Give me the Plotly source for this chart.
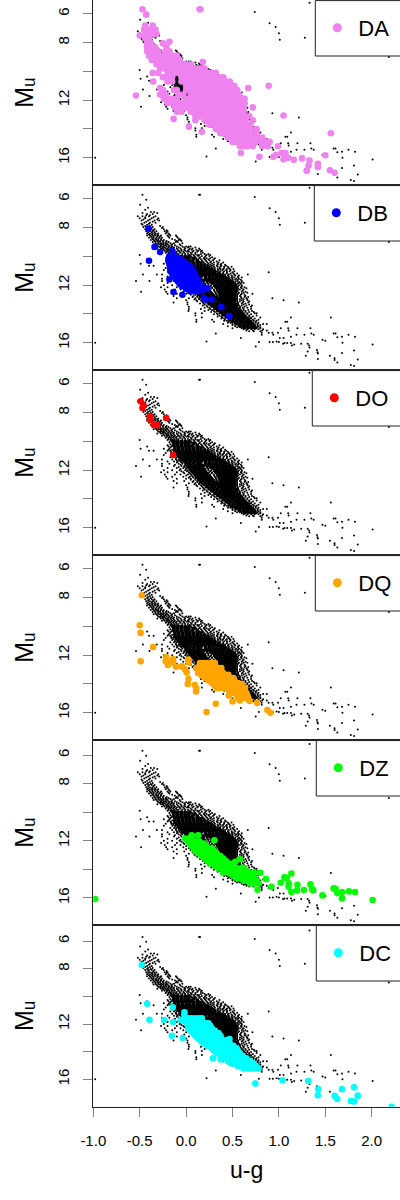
import plotly.graph_objects as go

# ---------- u-g tick labels and M_u tick labels ----------
x_ticks = [-1.0, -0.5, 0.0, 0.5, 1.0, 1.5, 2.0]
x_tick_text = ["-1.0", "-0.5", "0.0", "0.5", "1.0", "1.5", "2.0"]
y_ticks = [6, 8, 12, 16]
y_tick_text = ["6", "8", "12", "16"]
y_unlabelled_ticks = [10, 14]

# ---------- background sample: (M_u, [u-g values read along that M_u]) ----------
bg_core_rows = [
    (10.0, [-0.13, -0.09, -0.05, -0.01, 0.03]),
    (10.15, [-0.13, -0.09, -0.05, -0.01, 0.03, 0.08]),
    (10.3, [-0.13, -0.09, -0.05, -0.01, 0.03, 0.07, 0.12]),
    (10.45, [-0.12, -0.08, -0.04, 0.0, 0.04, 0.08, 0.12, 0.16]),
    (10.6, [-0.12, -0.08, -0.04, 0.0, 0.04, 0.08, 0.12, 0.16, 0.2]),
    (10.75, [-0.11, -0.07, -0.03, 0.01, 0.05, 0.09, 0.13, 0.17, 0.21, 0.24]),
    (10.9, [-0.09, -0.05, -0.01, 0.03, 0.07, 0.11, 0.15, 0.19, 0.23, 0.27]),
    (11.05, [-0.07, -0.03, 0.01, 0.05, 0.09, 0.13, 0.17, 0.21, 0.25, 0.28, 0.31]),
    (11.2, [-0.05, -0.01, 0.03, 0.07, 0.11, 0.15, 0.19, 0.23, 0.27, 0.31, 0.35]),
    (11.35, [-0.03, 0.01, 0.05, 0.09, 0.13, 0.17, 0.21, 0.25, 0.29, 0.33, 0.36, 0.39]),
    (11.5, [0.0, 0.04, 0.08, 0.12, 0.15, 0.21, 0.25, 0.29, 0.33, 0.37, 0.4, 0.43]),
    (11.65, [0.01, 0.05, 0.09, 0.13, 0.17, 0.23, 0.27, 0.31, 0.35, 0.39, 0.43, 0.47]),
    (11.8, [0.03, 0.07, 0.11, 0.14, 0.17, 0.28, 0.32, 0.36, 0.4, 0.44, 0.47, 0.5]),
    (11.95, [0.05, 0.09, 0.13, 0.16, 0.19, 0.31, 0.35, 0.39, 0.43, 0.46, 0.49, 0.52]),
    (12.1, [0.07, 0.1, 0.14, 0.17, 0.2, 0.33, 0.37, 0.41, 0.44, 0.47, 0.5, 0.53]),
    (12.25, [0.09, 0.12, 0.16, 0.19, 0.22, 0.35, 0.38, 0.41, 0.44, 0.47, 0.5, 0.53]),
    (12.4, [0.11, 0.14, 0.18, 0.21, 0.24, 0.36, 0.39, 0.42, 0.45, 0.48, 0.51, 0.53]),
    (12.55, [0.13, 0.16, 0.2, 0.23, 0.26, 0.37, 0.4, 0.43, 0.46, 0.49, 0.51, 0.53]),
    (12.7, [0.15, 0.18, 0.22, 0.25, 0.28, 0.37, 0.4, 0.43, 0.46, 0.49, 0.52]),
    (12.85, [0.17, 0.21, 0.25, 0.29, 0.33, 0.37, 0.4, 0.43, 0.46, 0.49, 0.52]),
    (13.0, [0.2, 0.24, 0.28, 0.32, 0.36, 0.39, 0.42, 0.45, 0.49, 0.52]),
    (13.15, [0.23, 0.27, 0.31, 0.35, 0.38, 0.41, 0.44, 0.47, 0.5, 0.52]),
    (13.3, [0.26, 0.3, 0.34, 0.38, 0.41, 0.44, 0.47, 0.5, 0.53]),
    (13.45, [0.29, 0.33, 0.37, 0.4, 0.43, 0.46, 0.49, 0.52, 0.54]),
    (13.6, [0.32, 0.36, 0.4, 0.43, 0.46, 0.49, 0.52, 0.55]),
    (13.75, [0.35, 0.39, 0.43, 0.46, 0.49, 0.52, 0.55, 0.57]),
    (13.9, [0.38, 0.42, 0.46, 0.49, 0.52, 0.55, 0.59]),
    (14.05, [0.41, 0.45, 0.49, 0.52, 0.55, 0.58, 0.61]),
    (14.2, [0.44, 0.48, 0.52, 0.55, 0.58, 0.61, 0.63]),
    (14.35, [0.47, 0.51, 0.55, 0.58, 0.61, 0.64, 0.66]),
    (14.5, [0.5, 0.54, 0.58, 0.61, 0.65, 0.68]),
    (14.65, [0.54, 0.58, 0.62, 0.65, 0.68, 0.71]),
    (14.8, [0.58, 0.62, 0.66, 0.7, 0.73]),
    (14.95, [0.63, 0.67, 0.71, 0.74]),
]
bg_sparse_rows = [
    (5.23, [1.33]), (5.7, [-0.47, 0.14, 0.15]), (5.86, [0.74]), (6.05, [-0.43]),
    (6.4, [-0.495]), (6.65, [0.9]), (6.76, [-0.44]), (6.9, [-0.38, -0.345, 0.965]),
    (7.05, [-0.42, -0.36]), (7.2, [-0.52, -0.47, -0.4, -0.33]),
    (7.35, [-0.5, -0.44, -0.37, -0.3, 1.0]), (7.5, [-0.48, -0.41, -0.34, -0.29]),
    (7.65, [-0.45, -0.39, -0.33, 1.28]), (7.8, [-0.47, -0.42, -0.37, 1.01]),
    (7.95, [-0.46, -0.41, -0.36, -0.25]), (8.1, [-0.44, -0.4, -0.37, -0.34, -0.24]),
    (8.25, [-0.43, -0.39, -0.36, -0.32, -0.23, -0.2]),
    (8.4, [-0.42, -0.39, -0.36, -0.33, -0.3, -0.22, -0.19]),
    (8.55, [-0.42, -0.39, -0.36, -0.33, -0.3, -0.27, -0.2, -0.17, -0.11]),
    (8.7, [-0.4, -0.37, -0.35, -0.32, -0.29, -0.26, -0.18, -0.09]),
    (8.85, [-0.38, -0.35, -0.32, -0.3, -0.27, -0.24, -0.12, -0.08, -0.06]),
    (9.0, [-0.36, -0.33, -0.3, -0.28, -0.25, -0.22, -0.19, -0.11, -0.09, 2.185]),
    (9.15, [-0.35, -0.32, -0.29, -0.27, -0.25, -0.22, -0.2, -0.15, -0.07]),
    (9.3, [-0.3, -0.28, -0.26, -0.24, -0.21, -0.18, -0.15, -0.1, -0.04, 0.0, 0.03, 0.05]),
    (9.45, [-0.31, -0.27, -0.25, -0.22, -0.2, -0.17, -0.14, -0.1, -0.06, -0.01, 0.04, 0.07, 0.14]),
    (9.6, [-0.26, -0.23, -0.2, -0.18, -0.15, -0.12, -0.08, -0.05, -0.01, 0.02, 0.08, 0.13, 0.17]),
    (9.75, [-0.22, -0.19, -0.17, -0.14, -0.11, -0.06, -0.02, 0.05, 0.1, 0.18]),
    (9.9, [-0.5, -0.2, -0.17, -0.15, -0.12, 0.04, 0.08, 0.12, 0.14, 0.22, 0.26]),
    (10.05, [-0.18, -0.15, 0.06, 0.1, 0.15, 0.2, 0.28]),
    (10.2, [-0.17, 0.11, 0.16, 0.2, 0.24, 0.3]),
    (10.35, [-0.42, -0.19, -0.16, 0.14, 0.18, 0.22, 0.27, 0.33]),
    (10.5, [-0.49, -0.24, -0.18, 0.2, 0.24, 0.28, 0.34, 0.38]),
    (10.65, [-0.4, -0.35, -0.2, -0.17, 0.24, 0.28, 0.33, 0.38, 0.43]),
    (10.8, [-0.22, -0.16, -0.14, 0.28, 0.31, 0.36, 0.41, 0.46]),
    (10.95, [-0.24, -0.15, -0.12, 0.31, 0.35, 0.39, 0.43, 0.48]),
    (11.1, [-0.17, -0.13, -0.1, 0.36, 0.4, 0.44, 0.5, 0.89]),
    (11.25, [-0.465, -0.315, -0.26, -0.15, -0.11, -0.08, 0.38, 0.42, 0.46, 0.52, 0.665]),
    (11.4, [-0.2, -0.13, -0.09, -0.06, 0.42, 0.46, 0.5, 0.56]),
    (11.55, [-0.26, -0.18, -0.08, -0.04, 0.46, 0.5, 0.54, 0.57]),
    (11.7, [-0.54, -0.395, -0.26, -0.13, -0.05, -0.02, 0.5, 0.55, 0.6]),
    (11.85, [-0.2, -0.1, -0.03, 0.0, 0.52, 0.56, 0.58, 0.62]),
    (12.0, [-0.24, -0.15, -0.07, -0.01, 0.02, 0.54, 0.57, 0.6]),
    (12.15, [-0.27, -0.2, -0.1, -0.03, 0.03, 0.55, 0.59, 0.63]),
    (12.3, [-0.23, -0.12, -0.06, 0.02, 0.05, 0.55, 0.58, 0.62]),
    (12.45, [-0.485, -0.215, -0.15, -0.03, 0.04, 0.07, 0.55, 0.6, 0.64]),
    (12.6, [-0.2, -0.1, 0.0, 0.05, 0.1, 0.56, 0.6, 0.715]),
    (12.75, [-0.135, -0.02, 0.08, 0.12, 0.55, 0.58, 0.64]),
    (12.9, [-0.1, 0.03, 0.1, 0.14, 0.55, 0.6, 0.65, 0.93]),
    (13.05, [0.0, 0.11, 0.16, 0.55, 0.6, 0.66, 1.05]),
    (13.2, [-0.135, 0.015, 0.18, 0.21, 0.56, 0.61, 0.67, 1.215]),
    (13.35, [0.015, 0.2, 0.24, 0.56, 0.62, 0.68]),
    (13.5, [0.03, 0.23, 0.27, 0.58, 0.63, 0.7]),
    (13.65, [0.03, 0.16, 0.26, 0.3, 0.58, 0.62, 0.7]),
    (13.8, [0.025, 0.2, 0.3, 0.33, 0.6, 0.64, 0.71]),
    (13.95, [0.1, 0.17, 0.33, 0.36, 0.62, 0.66, 0.74, 0.76]),
    (14.1, [0.1, 0.36, 0.39, 0.64, 0.68, 0.76]),
    (14.25, [0.17, 0.39, 0.43, 0.66, 0.7, 0.8, 1.13, 1.56]),
    (14.4, [0.11, 0.28, 0.42, 0.46, 0.68, 0.72, 0.78]),
    (14.55, [0.11, 0.3, 0.46, 0.5, 0.7, 0.75, 1.07, 1.09]),
    (14.7, [0.4, 0.5, 0.54, 0.73, 0.77, 0.83, 0.87]),
    (14.85, [0.45, 0.53, 0.57, 0.75, 0.78]),
    (15.0, [0.5, 0.6, 0.64, 0.76, 0.8, 1.02, 1.1, 1.2, 1.34]),
    (15.15, [0.65, 0.72, 0.82, 0.87, 1.105]),
    (15.3, [0.89, 0.93, 0.99, 0.815]),
    (15.36, [0.32, 1.35, 1.59, 1.61]),
    (15.45, [0.94, 1.19, 1.275, 1.375, 0.815, 1.75]),
    (15.58, [1.13, 1.68, 1.82]), (15.63, [1.63]), (15.68, [0.59, 1.01, 1.05]),
    (15.8, [1.47]), (15.87, [1.5]), (15.92, [0.22, 0.975]), (15.96, [0.785, 0.9, 0.935, 1.0]),
    (16.0, [-0.98, 1.685]), (16.03, [1.06, 1.09, 1.13]), (16.08, [1.24, 1.31, 1.045]),
    (16.12, [2.01, 1.165]), (16.19, [1.14, 1.325]), (16.27, [0.75]), (16.33, [1.33]),
    (16.5, [1.41]), (16.54, [1.81]), (16.61, [1.31]), (16.66, [1.415]), (16.71, [1.68]),
    (16.75, [1.42]), (16.9, [1.29, 1.55]), (17.08, [1.6]), (17.13, [1.42]), (17.17, [1.85]),
    (17.2, [1.6]), (17.38, [1.63]), (17.55, [1.775]), (17.62, [1.81]),
]
bg_halo_rows = [
    (6.62, [-0.41]), (6.97, [-0.47, -0.31]), (7.13, [-0.39, -0.43]), (7.27, [-0.35, -0.44]),
    (7.43, [-0.46, -0.39, -0.31]), (7.58, [-0.43, -0.36]), (7.72, [-0.48, -0.4]),
    (7.88, [-0.44, -0.39, -0.28]), (8.03, [-0.42, -0.38, -0.26]), (8.17, [-0.41, -0.35, -0.21]),
    (8.32, [-0.41, -0.37, -0.34, -0.21]), (8.47, [-0.4, -0.37, -0.34, -0.31, -0.18]),
    (8.62, [-0.38, -0.35, -0.31, -0.28, -0.19, -0.1]),
    (8.78, [-0.36, -0.33, -0.3, -0.27, -0.15, -0.07]),
    (8.93, [-0.34, -0.31, -0.28, -0.25, -0.21, -0.1, -0.05]),
    (9.08, [-0.33, -0.3, -0.27, -0.24, -0.21, -0.17, -0.13, -0.04]),
    (9.23, [-0.31, -0.27, -0.24, -0.22, -0.19, -0.16, -0.12, -0.06]),
    (9.38, [-0.28, -0.25, -0.23, -0.19, -0.16, -0.13, -0.08, -0.02, 0.02, 0.1]),
    (9.53, [-0.24, -0.21, -0.19, -0.16, -0.13, -0.09, -0.05, -0.02, 0.03, 0.06, 0.11, 0.15]),
    (9.68, [-0.21, -0.18, -0.16, -0.13, -0.1, -0.07, -0.03, 0.01, 0.03, 0.07, 0.12, 0.16]),
    (9.83, [-0.19, -0.16, -0.13, -0.1, -0.08, -0.04, -0.01, 0.02, 0.06, 0.1, 0.16, 0.2, 0.24]),
    (9.97, [-0.16, -0.14, -0.06, 0.05, 0.09, 0.13, 0.17, 0.21, 0.25]),
    (10.12, [0.07, 0.11, 0.14, 0.19, 0.22, 0.26, 0.31]),
    (10.27, [-0.2, -0.15, 0.13, 0.17, 0.21, 0.25, 0.29, 0.36]),
    (10.42, [-0.17, 0.19, 0.23, 0.26, 0.3, 0.35, 0.4]),
    (10.58, [-0.19, -0.15, 0.23, 0.26, 0.3, 0.34, 0.37, 0.42]),
    (10.72, [-0.16, -0.13, 0.27, 0.3, 0.34, 0.37, 0.41, 0.45, 0.49]),
    (10.88, [-0.14, -0.11, 0.3, 0.34, 0.37, 0.4, 0.44, 0.47, 0.51]),
    (11.03, [-0.12, -0.09, 0.34, 0.37, 0.41, 0.44, 0.47, 0.52]),
    (11.18, [-0.11, -0.07, 0.37, 0.4, 0.44, 0.48, 0.51, 0.55]),
    (11.33, [-0.1, -0.07, -0.04, 0.42, 0.45, 0.49, 0.53, 0.57]),
    (11.47, [-0.1, -0.05, -0.02, 0.46, 0.49, 0.52, 0.56, 0.6]),
    (11.62, [-0.12, -0.06, -0.01, 0.19, 0.21, 0.5, 0.53, 0.56, 0.59]),
    (11.77, [-0.08, -0.02, 0.02, 0.19, 0.22, 0.25, 0.53, 0.57, 0.6]),
    (11.92, [-0.06, 0.0, 0.04, 0.21, 0.24, 0.28, 0.55, 0.59]),
    (12.07, [-0.05, 0.01, 0.05, 0.22, 0.26, 0.3, 0.56, 0.6]),
    (12.22, [-0.02, 0.04, 0.07, 0.24, 0.28, 0.32, 0.56, 0.6, 0.65]),
    (12.37, [0.0, 0.06, 0.09, 0.26, 0.3, 0.33, 0.56, 0.61]),
    (12.52, [0.03, 0.08, 0.11, 0.28, 0.32, 0.35, 0.57, 0.62, 0.66]),
    (12.67, [0.05, 0.1, 0.13, 0.3, 0.33, 0.55, 0.59, 0.63]),
    (12.82, [0.07, 0.12, 0.15, 0.55, 0.59, 0.63, 0.67]),
    (12.97, [0.09, 0.14, 0.18, 0.55, 0.58, 0.62, 0.66]),
    (13.12, [0.12, 0.17, 0.21, 0.55, 0.58, 0.62, 0.68]),
    (13.27, [0.15, 0.19, 0.24, 0.56, 0.6, 0.64]),
    (13.42, [0.18, 0.22, 0.27, 0.57, 0.6, 0.65, 0.71]),
    (13.57, [0.2, 0.25, 0.3, 0.58, 0.61, 0.66]),
    (13.72, [0.24, 0.28, 0.33, 0.59, 0.62, 0.67]),
    (13.87, [0.27, 0.31, 0.36, 0.61, 0.64, 0.68, 0.73]),
    (14.02, [0.3, 0.34, 0.39, 0.63, 0.66, 0.7]),
    (14.17, [0.34, 0.38, 0.42, 0.65, 0.68, 0.72]),
    (14.32, [0.38, 0.41, 0.45, 0.68, 0.7, 0.74]),
    (14.47, [0.41, 0.44, 0.48, 0.7, 0.73, 0.76]),
    (14.62, [0.45, 0.48, 0.52, 0.72, 0.75, 0.78]),
    (14.77, [0.5, 0.53, 0.56, 0.74, 0.77, 0.8]),
    (14.92, [0.55, 0.58, 0.6, 0.77, 0.8]),
    (15.07, [0.62, 0.66, 0.7, 0.74, 0.78, 0.83]),
    (15.2, [0.68, 0.73, 0.8]),
    (11.7, [0.2, 0.23, 0.26]), (11.85, [0.23, 0.26, 0.29]), (12.0, [0.24, 0.27, 0.3]),
    (12.15, [0.25, 0.28, 0.31]), (12.3, [0.26, 0.3, 0.33]), (12.45, [0.27, 0.31, 0.34]),
    (12.6, [0.29, 0.32, 0.35]), (12.75, [0.31, 0.34]),
]

# ---------- class samples ----------
da_rows = [
    (5.67, [-0.47, 0.145, 0.155]), (6.05, [-0.43]),
    (6.8, [-0.44, -0.36]), (7.1, [-0.45, -0.41, -0.37, -0.33]),
    (7.4, [-0.44, -0.4, -0.36, -0.32]), (7.5, [-0.5]), (7.7, [-0.44, -0.4]),
    (7.93, [-0.18]), (8.05, [-0.42, -0.38, -0.25]),
    (8.3, [-0.42, -0.38, -0.34, -0.21]), (8.6, [-0.42, -0.38, -0.34, -0.3, -0.22, -0.18]),
    (8.9, [-0.4, -0.36, -0.32, -0.28, -0.24, -0.2, -0.15, -0.1]),
    (9.2, [-0.37, -0.33, -0.29, -0.25, -0.21, -0.17, -0.13, -0.1, -0.07]),
    (9.35, [0.18]),
    (9.5, [-0.32, -0.28, -0.24, -0.2, -0.16, -0.12, -0.08, -0.04, 0.0, 0.05]),
    (9.8, [-0.28, -0.24, -0.2, -0.16, -0.12, -0.08, -0.04, 0.0, 0.04, 0.08, 0.12, 0.16, 0.2]),
    (10.1, [-0.36, -0.3, -0.2, -0.16, -0.12, -0.08, -0.04, 0.0, 0.04, 0.08, 0.12, 0.16, 0.2, 0.24, 0.28, 0.32]),
    (10.4, [-0.25, -0.2, -0.15, -0.05, -0.01, 0.03, 0.07, 0.11, 0.15, 0.19, 0.23, 0.27, 0.31, 0.35, 0.4]),
    (10.7, [-0.355, -0.2, -0.15, -0.05, -0.01, 0.03, 0.07, 0.11, 0.15, 0.19, 0.23, 0.27, 0.31, 0.35, 0.39, 0.43, 0.47]),
    (11.0, [0.0, 0.04, 0.08, 0.12, 0.16, 0.2, 0.24, 0.28, 0.32, 0.36, 0.4, 0.44, 0.48, 0.52, 0.89]),
    (11.16, [-0.28, 0.67]),
    (11.3, [-0.25, -0.13, -0.1, 0.0, 0.04, 0.08, 0.12, 0.16, 0.2, 0.24, 0.28, 0.32, 0.36, 0.4, 0.44, 0.48, 0.52, 0.55]),
    (11.6, [-0.28, -0.22, -0.08, -0.03, 0.05, 0.09, 0.13, 0.17, 0.21, 0.25, 0.29, 0.33, 0.37, 0.41, 0.45, 0.49, 0.53, 0.57]),
    (11.67, [-0.54]),
    (11.9, [-0.24, -0.19, -0.15, -0.1, 0.0, 0.04, 0.08, 0.12, 0.16, 0.2, 0.24, 0.28, 0.32, 0.36, 0.4, 0.44, 0.48, 0.52, 0.56, 0.6, 0.63]),
    (12.2, [-0.2, -0.15, -0.1, -0.05, 0.0, 0.04, 0.08, 0.12, 0.16, 0.2, 0.24, 0.28, 0.32, 0.36, 0.4, 0.44, 0.48, 0.52, 0.56, 0.6, 0.63]),
    (12.5, [-0.12, -0.05, 0.0, 0.04, 0.08, 0.12, 0.16, 0.2, 0.24, 0.28, 0.32, 0.36, 0.4, 0.44, 0.48, 0.52, 0.56, 0.6, 0.62, 0.72]),
    (12.8, [-0.1, -0.05, 0.05, 0.09, 0.13, 0.17, 0.21, 0.25, 0.29, 0.33, 0.37, 0.41, 0.45, 0.49, 0.53, 0.57, 0.62]),
    (13.06, [1.05]),
    (13.1, [0.1, 0.14, 0.18, 0.22, 0.26, 0.3, 0.34, 0.38, 0.42, 0.46, 0.5, 0.54, 0.58, 0.62, 0.68]),
    (13.3, [-0.135]),
    (13.4, [0.1, 0.2, 0.24, 0.28, 0.32, 0.36, 0.4, 0.44, 0.48, 0.52, 0.56, 0.6, 0.64, 0.72]),
    (13.7, [0.25, 0.29, 0.33, 0.37, 0.41, 0.45, 0.49, 0.53, 0.57, 0.61, 0.65, 0.69]),
    (13.84, [0.03]),
    (14.0, [0.32, 0.36, 0.4, 0.44, 0.48, 0.52, 0.56, 0.6, 0.64, 0.7, 0.76]),
    (14.2, [0.17]),
    (14.3, [0.37, 0.41, 0.45, 0.49, 0.53, 0.57, 0.61, 0.65, 0.69, 0.76, 1.56]),
    (14.6, [0.45, 0.49, 0.53, 0.57, 0.61, 0.65, 0.69, 0.73, 0.78, 0.82]),
    (14.9, [0.5, 0.54, 0.58, 0.62, 0.66, 0.7, 0.75, 0.82, 0.86, 0.9]),
    (15.2, [0.58, 0.62, 0.66, 0.72, 0.82, 0.88, 0.99]),
    (15.67, [0.59, 1.03, 1.07]), (15.8, [0.97]), (15.83, [1.5]),
    (15.94, [0.79, 0.94]), (16.0, [1.1]), (16.05, [1.25]), (16.1, [1.05]), (16.15, [1.16]),
    (16.2, [1.33]), (16.43, [1.42]), (16.55, [1.32]), (16.65, [1.42]), (16.87, [1.55]),
    (16.9, [1.3]), (17.05, [1.6]),
]
db_rows = [
    (8.06, [-0.405]), (9.34, [-0.34]), (9.6, [-0.15]), (9.69, [-0.28]),
    (9.99, [-0.18, -0.15, -0.12]), (10.17, [-0.19, -0.15, -0.11, -0.07]),
    (10.3, [-0.4]), (10.34, [-0.19, -0.15, -0.11, -0.07, -0.03]),
    (10.52, [-0.18, -0.14, -0.1, -0.06, -0.02, 0.01]),
    (10.69, [-0.17, -0.13, -0.09, -0.05, -0.01, 0.04]),
    (10.86, [-0.17, -0.13, -0.09, -0.05, -0.01, 0.03, 0.06]),
    (11.03, [-0.17, -0.13, -0.09, -0.05, -0.01, 0.03, 0.08]),
    (11.2, [-0.15, -0.11, -0.07, -0.03, 0.01, 0.05, 0.09]),
    (11.38, [-0.136, -0.1, -0.06, -0.02, 0.02, 0.06, 0.1]),
    (11.55, [-0.11, -0.07, -0.03, 0.01, 0.05, 0.09, 0.12]),
    (11.6, [-0.18]),
    (11.73, [-0.09, -0.05, -0.01, 0.03, 0.07, 0.11, 0.135]),
    (11.9, [-0.07, -0.03, 0.01, 0.05, 0.09, 0.13, 0.15]),
    (12.08, [-0.046, -0.01, 0.03, 0.07, 0.11, 0.14, 0.17]),
    (12.24, [0.0, 0.04, 0.08, 0.12, 0.17, 0.23]),
    (12.43, [0.04, 0.08, 0.12, 0.17]), (12.47, [-0.136]), (12.66, [-0.04]),
    (12.9, [0.195]), (13.0, [0.21, 0.275]), (13.52, [0.38]), (14.15, [0.465]),
]
do_rows = [
    (7.2, [-0.49]), (7.49, [-0.46]), (7.67, [-0.47]), (8.25, [-0.39]), (8.37, [-0.215]),
    (8.48, [-0.39]), (8.83, [-0.35]), (8.88, [-0.31]), (10.94, [-0.14]),
]
dq_rows = [
    (7.83, [-0.477]), (9.92, [-0.5]), (10.45, [-0.49]), (11.43, [-0.355]),
    (12.13, [-0.215]), (12.27, [-0.14]), (12.31, [0.025]), (12.43, [-0.49, -0.22, -0.197]),
    (12.5, [-0.14, 0.03]), (12.54, [0.15, 0.19, 0.23, 0.27, 0.31]), (12.68, [-0.197]),
    (12.78, [-0.047]), (12.8, [-0.108]), (12.89, [0.11, 0.15, 0.19, 0.23, 0.27, 0.31, 0.35, 0.38]),
    (13.0, [-0.01]), (13.2, [0.007]), (13.24, [0.13, 0.17, 0.21, 0.25, 0.29, 0.33, 0.37, 0.4]),
    (13.36, [0.455]), (13.42, [0.17, 0.21, 0.25, 0.29, 0.33, 0.37, 0.41]),
    (13.59, [0.205, 0.24, 0.28, 0.32, 0.36, 0.4, 0.44, 0.48, 0.51]), (13.66, [0.025]),
    (13.75, [0.52, 0.24, 0.28, 0.32, 0.36, 0.4, 0.44, 0.48]),
    (13.94, [0.276, 0.31, 0.35, 0.39, 0.43, 0.47, 0.51, 0.56]), (14.0, [0.018, 0.6]),
    (14.08, [0.093]), (14.12, [0.31, 0.35, 0.39, 0.43, 0.47, 0.51, 0.55, 0.59]),
    (14.29, [0.108, 0.33, 0.37, 0.41, 0.45, 0.49, 0.53, 0.57, 0.61, 0.635]),
    (14.46, [0.47, 0.51, 0.55, 0.59, 0.63]), (14.52, [0.108]),
    (14.63, [0.47, 0.51, 0.55, 0.59, 0.65]), (14.8, [0.46, 0.55, 0.59, 0.63, 0.66]),
    (14.98, [0.56, 0.6, 0.64, 0.67]), (15.15, [0.58]), (15.19, [0.685]), (15.22, [0.5]),
    (15.33, [0.765]), (15.38, [0.32]), (15.82, [0.875]), (15.96, [0.22]), (16.0, [0.91]),
]
dz_rows = [
    (11.62, [0.06, 0.13]), (11.85, [-0.01, 0.03, 0.06]), (11.96, [0.305]),
    (12.03, [0.02, 0.06, 0.1, 0.14]), (12.2, [0.04, 0.08, 0.12, 0.16, 0.19]),
    (12.37, [0.06, 0.1, 0.14, 0.18, 0.22]), (12.54, [0.08, 0.12, 0.16, 0.2, 0.24, 0.28]),
    (12.72, [0.1, 0.14, 0.18, 0.22, 0.26, 0.3]), (12.89, [0.13, 0.17, 0.21, 0.25, 0.29, 0.33]),
    (13.06, [0.17, 0.21, 0.25, 0.29, 0.33, 0.37]), (13.24, [0.2, 0.24, 0.28, 0.32, 0.36, 0.4]),
    (13.29, [0.58]), (13.42, [0.23, 0.27, 0.31, 0.35, 0.39, 0.43]), (13.47, [0.53]),
    (13.59, [0.26, 0.3, 0.34, 0.38, 0.42, 0.47]), (13.76, [0.31, 0.35, 0.39, 0.43, 0.47, 0.52]),
    (13.87, [0.61]), (13.94, [0.35, 0.39, 0.43, 0.47, 0.51, 0.55, 0.58]),
    (14.11, [0.41, 0.45, 0.49, 0.53, 0.57, 0.61, 0.64]), (14.17, [0.67]),
    (14.22, [0.73]), (14.24, [0.4, 0.8]), (14.29, [0.47, 0.51, 0.55, 0.59, 0.63, 0.69, 1.135]),
    (14.46, [0.51, 0.55, 0.59, 0.63, 0.67, 0.71]), (14.56, [1.06]), (14.59, [1.085]),
    (14.63, [0.55, 0.59, 0.63, 0.67, 0.71, 0.74]), (14.68, [0.86]),
    (14.8, [0.62, 0.66, 0.7, 0.74, 0.76]), (14.94, [1.02]), (14.98, [0.69, 0.73, 0.78, 1.105]),
    (15.05, [1.34]), (15.07, [1.2]), (15.21, [0.92, 1.105]), (15.33, [1.59]), (15.36, [1.61]),
    (15.4, [1.36]), (15.42, [0.77]), (15.45, [1.27]), (15.47, [1.37, 1.195]),
    (15.54, [1.755]), (15.59, [1.135, 1.68, 1.82]), (15.66, [1.63]), (15.82, [1.47]),
    (16.03, [1.68]), (16.07, [-0.98]), (16.14, [2.01]),
]
dc_rows = [
    (7.74, [-0.477]), (10.53, [-0.42]), (10.8, [-0.144]), (11.16, [-0.018]), (11.4, [-0.018]),
    (11.59, [0.025, 0.06, 0.1, 0.14, 0.17]), (11.69, [-0.395]), (11.71, [-0.237, -0.057]),
    (11.79, [-0.014]), (11.86, [-0.14]), (11.95, [0.007, 0.05, 0.09, 0.13, 0.17, 0.21, 0.24]),
    (12.13, [0.02, 0.06, 0.1, 0.14, 0.18, 0.22, 0.26]),
    (12.32, [0.025, 0.07, 0.11, 0.15, 0.19, 0.23, 0.276]),
    (12.5, [0.05, 0.09, 0.13, 0.17, 0.21, 0.25, 0.29, 0.31]),
    (12.68, [0.08, 0.12, 0.16, 0.2, 0.24, 0.28, 0.32, 0.35]),
    (12.85, [-0.154, 0.1, 0.14, 0.18, 0.22, 0.26, 0.3, 0.34, 0.37]),
    (13.01, [-0.036]), (13.04, [0.13, 0.17, 0.21, 0.25, 0.29, 0.33, 0.38]),
    (13.09, [0.467]), (13.16, [0.445]),
    (13.22, [0.16, 0.2, 0.24, 0.28, 0.32, 0.36, 0.4, 0.43]),
    (13.4, [0.187, 0.23, 0.27, 0.31, 0.35, 0.39, 0.43, 0.47]),
    (13.58, [0.23, 0.27, 0.31, 0.35, 0.39, 0.43, 0.47, 0.51]),
    (13.76, [0.276, 0.31, 0.35, 0.39, 0.43, 0.47, 0.51, 0.545]),
    (13.94, [0.3, 0.34, 0.38, 0.42, 0.46, 0.5, 0.54, 0.56]),
    (14.12, [0.33, 0.37, 0.41, 0.45, 0.49, 0.53, 0.58]),
    (14.3, [0.37, 0.41, 0.45, 0.49, 0.53, 0.57, 0.61]),
    (14.48, [0.29, 0.4, 0.44, 0.48, 0.52, 0.56, 0.6, 0.65]), (14.56, [0.373]),
    (14.67, [0.45, 0.49, 0.53, 0.57, 0.61, 0.65, 0.69]), (14.77, [0.474]),
    (14.85, [0.49, 0.53, 0.57, 0.61, 0.65, 0.69, 0.725]), (14.97, [0.545]),
    (15.03, [0.56, 0.6, 0.64, 0.68, 0.72, 0.75]), (15.21, [0.617, 0.66, 0.7, 0.74, 0.78]),
    (16.07, [1.04]), (16.12, [1.317]), (16.3, [0.746]), (16.58, [1.81]), (16.72, [1.425, 1.68]),
    (17.15, [1.42]), (17.18, [1.85]), (17.2, [1.6]), (17.42, [1.63]), (17.57, [1.775]),
    (17.6, [1.81]), (17.98, [2.215]),
]

class_names = ["DA", "DB", "DO", "DQ", "DZ", "DC"]
class_rows = [da_rows, db_rows, do_rows, dq_rows, dz_rows, dc_rows]
class_colors = ["#EE82EE", "#0000FF", "#FF0000", "#FFA500", "#00FF00", "#00FFFF"]


def flatten(rows):
    xs, ys = [], []
    for mu, ugs in rows:
        for ug in ugs:
            xs.append(ug)
            ys.append(mu)
    return xs, ys


# ---------- page layout in pixels ----------
W, H = 400, 1200
PANEL_LEFT = 93.3
panel_tops = [0, 185, 370, 555, 740, 925]
panel_bottoms = [185, 370, 555, 740, 925, 1106.7]
y_ranges = [[17.9, 5.03], [17.9, 5.03], [17.9, 5.03], [17.9, 5.03], [17.89, 4.95], [17.98, 4.84]]
x_range = [-1.0, 2.305]
legend_lefts = [315.3, 314.3, 312.3, 315.3, 316.3, 316.3]
LEGEND_H = 56

core_x, core_y = flatten(bg_core_rows)
sparse_x, sparse_y = flatten(bg_sparse_rows + bg_halo_rows)

fig = go.Figure()
layout = dict(
    width=W, height=H, margin=dict(l=0, r=0, t=0, b=0), autosize=False,
    paper_bgcolor="white", plot_bgcolor="white",
    font=dict(family="Liberation Sans, Arial, DejaVu Sans, sans-serif", color="black"),
    shapes=[],
)

for i, name in enumerate(class_names):
    n = i + 1
    sfx = "" if n == 1 else str(n)
    xa, ya = f"x{sfx}", f"y{sfx}"
    leg = f"legend{sfx}"
    common = dict(xaxis=xa, yaxis=ya, mode="markers", hoverinfo="skip")
    fig.add_trace(go.Scatter(x=core_x, y=core_y, showlegend=False,
                             marker=dict(size=4, color="black", line=dict(width=0)), **common))
    fig.add_trace(go.Scatter(x=sparse_x, y=sparse_y, showlegend=False,
                             marker=dict(size=2, color="black", line=dict(width=0)), **common))
    cx, cy = flatten(class_rows[i])
    fig.add_trace(go.Scatter(x=cx, y=cy, showlegend=False,
                             marker=dict(size=6.6, color=class_colors[i], line=dict(width=0)), **common))
    # legend entry carries the larger key symbol used in the figure
    fig.add_trace(go.Scatter(x=[None], y=[None], name=name, legend=leg, showlegend=True,
                             xaxis=xa, yaxis=ya, mode="markers",
                             marker=dict(size=9, color=class_colors[i], line=dict(width=0))))

    top, bottom = panel_tops[i], panel_bottoms[i]
    last = i == len(class_names) - 1
    x_axis = dict(
        domain=[PANEL_LEFT / W, 1], range=x_range, anchor=ya, showgrid=False, zeroline=False,
        showline=True, linecolor="#222222", linewidth=1, mirror=True,
        showticklabels=last, automargin=False,
    )
    if last:
        x_axis.update(
            tickmode="array", tickvals=x_ticks, ticktext=x_tick_text,
            ticks="outside", ticklen=9, tickcolor="#808080", tickwidth=1,
            tickfont=dict(size=15), ticklabelstandoff=11,
            title=dict(text="u-g", font=dict(size=23), standoff=14),
        )
    else:
        x_axis.update(ticks="")
    layout[f"xaxis{sfx}"] = x_axis
    layout[f"yaxis{sfx}"] = dict(
        domain=[1 - bottom / H, 1 - top / H], range=y_ranges[i], anchor=xa, showgrid=False,
        zeroline=False, showline=True, linecolor="#222222", linewidth=1,
        tickmode="array", tickvals=y_ticks, ticktext=y_tick_text, tickangle=-90,
        ticks="outside", ticklen=9, tickcolor="#808080", tickwidth=1,
        minor=dict(tickmode="array", tickvals=y_unlabelled_ticks, ticks="outside",
                   ticklen=9, tickcolor="#808080", tickwidth=1, showgrid=False),
        tickfont=dict(size=15), ticklabelstandoff=8,
        title=dict(text="M\u1d64", font=dict(size=25), standoff=14),
        automargin=False,
    )
    layout[leg] = dict(
        x=(legend_lefts[i] + 1) / W, xanchor="left",
        y=1 - (top + LEGEND_H / 2) / H, yanchor="middle",
        bgcolor="rgba(0,0,0,0)", borderwidth=0, font=dict(size=22), itemwidth=32,
        itemclick=False, itemdoubleclick=False,
    )
    layout["shapes"].append(dict(
        type="rect", xref="paper", yref="paper",
        x0=legend_lefts[i] / W, x1=1.01, y0=1 - (top + LEGEND_H) / H, y1=1 - top / H - 0.0005,
        line=dict(color="#222222", width=1), fillcolor="white", layer="above",
    ))

fig.update_layout(**layout)
fig.write_html("out.html", config={"displayModeBar": False},
               post_script="document.body.style.margin='0';")
